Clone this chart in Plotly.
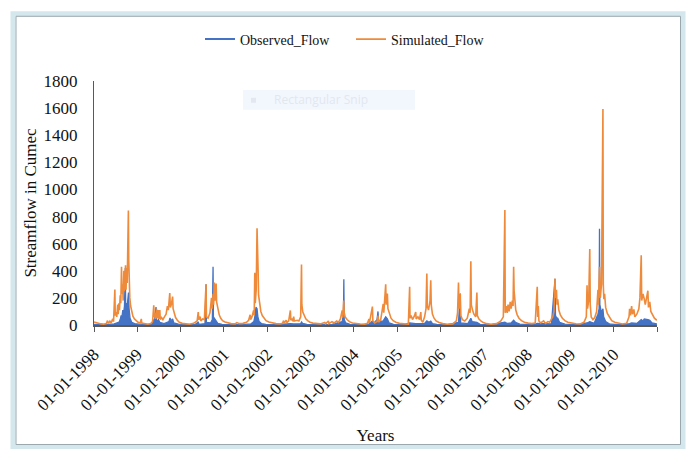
import plotly.graph_objects as go

# ---------------- data ----------------
sim_dates = [
    "1998-01-01","1998-01-15","1998-02-05","1998-03-01","1998-03-25","1998-04-15","1998-04-25","1998-05-02","1998-05-15","1998-05-25",
    "1998-06-08","1998-06-15","1998-06-26","1998-06-29","1998-07-06","1998-07-12","1998-07-20","1998-07-24","1998-07-30","1998-08-04",
    "1998-08-10","1998-08-15","1998-08-21","1998-08-25","1998-08-30","1998-09-04","1998-09-10","1998-09-14","1998-09-19","1998-09-24",
    "1998-09-28","1998-10-03","1998-10-08","1998-10-13","1998-10-18","1998-10-21","1998-10-25","1998-10-30","1998-11-06","1998-11-15",
    "1998-11-25","1998-12-08","1998-12-22",
    "1999-01-08","1999-01-25","1999-02-04","1999-02-08","1999-03-01","1999-04-01","1999-04-25","1999-05-10","1999-05-20","1999-05-24",
    "1999-05-30","1999-06-05","1999-06-12","1999-06-17","1999-06-26","1999-06-30","1999-07-10","1999-07-14","1999-07-25","1999-08-05",
    "1999-08-18","1999-09-01","1999-09-12","1999-09-20","1999-10-02","1999-10-07","1999-10-15","1999-10-26","1999-10-30","1999-11-08",
    "1999-11-20","1999-12-05","1999-12-22",
    "2000-01-15","2000-02-15","2000-03-15","2000-04-20","2000-05-20","2000-05-29","2000-06-03","2000-06-14","2000-06-20","2000-07-05",
    "2000-07-20","2000-08-03","2000-08-06","2000-08-20","2000-09-05","2000-09-18","2000-09-24","2000-10-01","2000-10-06","2000-10-12",
    "2000-10-17","2000-10-22","2000-10-27","2000-10-31","2000-11-10","2000-11-22","2000-12-05","2000-12-20",
    "2001-01-10","2001-02-05","2001-03-01","2001-04-05","2001-04-20","2001-05-10","2001-06-10","2001-07-10","2001-07-28","2001-08-10",
    "2001-08-14","2001-08-25","2001-09-08","2001-09-13","2001-09-18","2001-09-22","2001-09-30","2001-10-07","2001-10-10","2001-10-16",
    "2001-10-20","2001-10-28","2001-11-08","2001-11-20","2001-12-05","2001-12-22",
    "2002-01-15","2002-02-15","2002-03-15","2002-04-15","2002-05-10","2002-05-19","2002-05-25","2002-06-10","2002-06-16","2002-07-01",
    "2002-07-15","2002-07-19","2002-07-30","2002-08-05","2002-08-12","2002-08-17","2002-09-10","2002-09-25","2002-10-10","2002-10-17",
    "2002-10-20","2002-10-28","2002-11-08","2002-11-22","2002-12-10","2002-12-28",
    "2003-01-20","2003-02-20","2003-03-25","2003-05-01","2003-05-08","2003-06-01","2003-06-05","2003-07-01","2003-07-20","2003-08-10",
    "2003-08-25","2003-09-10","2003-09-25","2003-09-30","2003-10-08","2003-10-12","2003-10-20","2003-11-05","2003-11-25","2003-12-20",
    "2004-01-20","2004-02-25","2004-04-01","2004-04-25","2004-05-08","2004-05-12","2004-06-06","2004-06-10","2004-06-25","2004-07-15",
    "2004-07-23","2004-07-28","2004-08-15","2004-09-05","2004-09-10","2004-09-26","2004-09-30","2004-10-10","2004-10-15","2004-10-28",
    "2004-11-10","2004-11-28","2004-12-20",
    "2005-01-20","2005-02-25","2005-04-05","2005-04-16","2005-04-19","2005-04-28","2005-05-10","2005-05-25","2005-06-06","2005-06-10",
    "2005-06-25","2005-07-08","2005-07-19","2005-07-23","2005-08-05","2005-08-20","2005-09-01","2005-09-08","2005-09-12","2005-09-22",
    "2005-10-05","2005-10-11","2005-10-15","2005-10-25","2005-11-08","2005-11-25","2005-12-20",
    "2006-01-20","2006-03-01","2006-04-15","2006-05-15","2006-05-25","2006-06-02","2006-06-06","2006-06-17","2006-06-21","2006-07-05",
    "2006-07-25","2006-08-15","2006-09-01","2006-09-08","2006-09-14","2006-09-18","2006-09-28","2006-10-10","2006-10-25","2006-11-04",
    "2006-11-08","2006-11-20","2006-12-10","2006-12-28",
    "2007-01-25","2007-03-05","2007-04-20","2007-05-25","2007-06-15","2007-06-28","2007-07-01","2007-07-10","2007-07-18","2007-07-25",
    "2007-08-03","2007-08-12","2007-08-20","2007-08-30","2007-09-05","2007-09-10","2007-09-14","2007-09-20","2007-09-28","2007-10-10",
    "2007-10-25","2007-11-15","2007-12-10",
    "2008-01-10","2008-02-10","2008-03-10","2008-03-27","2008-03-31","2008-04-05","2008-04-10","2008-04-25","2008-05-20","2008-06-05",
    "2008-06-25","2008-07-10","2008-07-25","2008-08-05","2008-08-15","2008-08-24","2008-08-28","2008-09-05","2008-09-10","2008-09-16",
    "2008-09-25","2008-10-08","2008-10-25","2008-11-15","2008-12-10",
    "2009-01-10","2009-02-15","2009-03-25","2009-04-25","2009-05-15","2009-05-21","2009-05-25","2009-06-04","2009-06-13","2009-06-17",
    "2009-06-25","2009-07-10","2009-07-25","2009-08-10","2009-08-21","2009-08-25","2009-09-03","2009-09-10","2009-09-20","2009-10-02",
    "2009-10-05","2009-10-10","2009-10-16","2009-10-25","2009-11-08","2009-11-25","2009-12-15",
    "2010-01-10","2010-02-10","2010-03-15","2010-04-20","2010-05-10","2010-05-15","2010-05-22","2010-06-01","2010-06-08","2010-06-20",
    "2010-06-28","2010-07-15","2010-08-01","2010-08-10","2010-08-21","2010-08-25","2010-09-05","2010-09-16","2010-09-24","2010-10-05",
    "2010-10-16","2010-10-21","2010-11-01","2010-11-10","2010-11-25","2010-12-10","2010-12-31",
]
sim_values = [
    22,18,12,8,6,10,32,12,28,15,
    45,25,262,70,95,60,150,80,160,110,
    220,160,430,230,300,180,400,250,330,440,
    260,420,310,560,845,480,300,200,140,95,
    65,45,30,
    20,14,45,14,9,6,10,25,145,60,
    90,45,120,50,110,45,110,40,55,40,
    60,80,140,110,235,130,150,210,120,80,
    55,35,20,
    12,8,6,12,30,95,40,62,30,45,
    40,300,60,50,90,200,120,230,150,313,
    180,240,306,170,110,75,50,32,
    22,14,10,8,18,10,12,20,35,75,
    40,60,107,70,386,160,260,714,420,400,
    220,150,100,70,48,32,
    22,14,10,8,12,32,14,36,18,30,
    107,35,48,28,62,30,35,30,60,447,
    150,95,65,45,30,20,
    14,10,8,18,8,30,10,25,15,30,
    20,45,107,55,180,90,60,40,25,15,
    10,7,6,12,45,15,136,30,15,25,
    70,20,40,155,90,301,150,233,120,75,
    50,32,20,
    12,8,6,282,50,70,40,65,95,45,
    60,40,95,35,20,60,120,379,140,110,
    180,330,150,80,50,30,18,
    10,6,8,30,90,313,120,230,70,40,
    30,50,120,90,471,150,110,80,60,240,
    70,45,28,18,
    10,6,10,30,60,848,90,140,90,150,
    100,170,120,180,140,430,250,180,110,75,
    50,32,20,
    14,10,15,282,60,140,30,15,30,12,
    25,20,45,60,100,343,200,260,150,190,
    110,75,50,32,20,
    14,9,7,20,60,294,120,180,560,150,
    60,40,55,100,260,150,430,200,300,1594,
    300,190,230,130,85,55,32,
    20,12,8,12,60,120,70,140,80,115,
    60,80,120,200,515,180,230,190,150,200,
    253,130,170,100,70,50,35,
]

obs_dates = [
    "1998-01-01","1998-03-01","1998-05-01","1998-06-20","1998-07-20","1998-08-01","1998-08-10","1998-08-18","1998-08-25","1998-09-01",
    "1998-09-08","1998-09-15","1998-09-22","1998-09-25","1998-10-01","1998-10-08","1998-10-15","1998-10-19","1998-10-24","1998-11-01",
    "1998-11-15","1998-12-10",
    "1999-01-15","1999-03-01","1999-05-01","1999-05-20","1999-05-25","1999-06-08","1999-06-12","1999-06-28","1999-07-10","1999-08-15",
    "1999-09-25","1999-10-04","1999-10-12","1999-10-26","1999-11-05","1999-12-15",
    "2000-02-01","2000-05-01","2000-05-29","2000-06-05","2000-07-25","2000-08-03","2000-08-06","2000-09-10","2000-09-25","2000-10-01",
    "2000-10-04","2000-10-12","2000-10-20","2000-10-28","2000-11-10","2000-12-15",
    "2001-02-01","2001-06-01","2001-08-15","2001-09-10","2001-09-18","2001-09-28","2001-10-07","2001-10-14","2001-10-25","2001-11-15",
    "2001-12-20",
    "2002-03-01","2002-07-15","2002-08-12","2002-10-10","2002-10-18","2002-10-25","2002-12-01",
    "2003-03-01","2003-07-01","2003-09-25","2003-10-06","2003-10-09","2003-10-12","2003-10-25","2003-12-01",
    "2004-03-01","2004-05-10","2004-06-06","2004-06-20","2004-07-15","2004-07-23","2004-07-28","2004-09-05","2004-09-26","2004-10-10",
    "2004-10-25","2004-12-01",
    "2005-03-01","2005-04-16","2005-06-06","2005-08-20","2005-09-08","2005-09-25","2005-10-11","2005-10-25","2005-12-01",
    "2006-03-01","2006-06-02","2006-06-17","2006-06-20","2006-08-20","2006-09-14","2006-09-25","2006-11-04","2006-12-01",
    "2007-03-01","2007-06-28","2007-07-15","2007-08-20","2007-09-10","2007-09-25","2007-11-01",
    "2008-03-01","2008-03-27","2008-07-25","2008-08-24","2008-08-28","2008-09-05","2008-09-16","2008-10-01","2008-11-15",
    "2009-03-01","2009-05-21","2009-06-13","2009-07-20","2009-08-21","2009-08-31","2009-09-03","2009-09-06","2009-09-20","2009-10-02",
    "2009-10-08","2009-10-25","2009-12-01",
    "2010-03-01","2010-05-15","2010-06-01","2010-07-15","2010-08-21","2010-09-05","2010-09-16","2010-10-16","2010-11-01","2010-11-20",
    "2010-12-31",
]
obs_values = [
    5,3,4,8,15,22,40,70,60,110,
    90,140,420,150,160,140,200,240,120,50,
    20,10,
    6,4,4,40,15,133,20,40,20,10,
    25,53,30,45,15,6,
    4,3,20,5,10,300,20,15,40,430,
    60,50,45,30,12,5,
    4,3,8,25,60,131,120,60,25,10,
    5,
    3,10,8,10,22,12,5,
    3,5,25,80,338,40,15,5,
    3,8,30,15,40,100,25,30,60,45,
    15,5,
    3,15,10,12,30,20,28,10,4,
    3,20,233,15,10,50,25,20,5,
    3,20,12,15,35,20,6,
    3,12,8,340,70,55,50,20,6,
    3,15,25,12,80,120,710,150,90,120,
    60,25,6,
    3,10,15,12,40,30,45,40,35,15,
    8,
]

year_ticks = ["1998-01-01","1999-01-01","2000-01-01","2001-01-01","2002-01-01","2003-01-01","2004-01-01",
              "2005-01-01","2006-01-01","2007-01-01","2008-01-01","2009-01-01","2010-01-01","2011-01-01"]
year_labels = ["01-01-1998","01-01-1999","01-01-2000","01-01-2001","01-01-2002","01-01-2003","01-01-2004",
               "01-01-2005","01-01-2006","01-01-2007","01-01-2008","01-01-2009","01-01-2010",""]

# ---------------- figure ----------------
W, H = 689, 454
ML, MR, MT, MB = 94, 32, 81, 126
PW, PH = W - ML - MR, H - MT - MB


def px(x):
    return (x - ML) / PW


def py(y):
    return (H - MB - y) / PH


SERIF = "Liberation Serif, Times New Roman, serif"
BLUE = "#4472C4"
ORANGE = "#EE8A3A"

fig = go.Figure()
# observed flow: filled area (legend entry supplied by a line-only proxy)
fig.add_trace(go.Scatter(
    x=obs_dates, y=obs_values, name="Observed_Flow", mode="lines",
    line=dict(color=BLUE, width=1.3), fill="tozeroy", fillcolor=BLUE,
    legendgroup="obs", showlegend=False,
))
fig.add_trace(go.Scatter(
    x=[None], y=[None], name="Observed_Flow", mode="lines",
    line=dict(color=BLUE, width=2), legendgroup="obs", showlegend=True,
))
fig.add_trace(go.Scatter(
    x=sim_dates, y=sim_values, name="Simulated_Flow", mode="lines",
    line=dict(color=ORANGE, width=1.6),
))

shapes = [
    # outer frame of the embedded chart object
    dict(type="rect", xref="paper", yref="paper", x0=px(13), x1=px(683), y0=py(451), y1=py(13),
         line=dict(color="#D3E7EC", width=5), layer="below"),
    dict(type="rect", xref="paper", yref="paper", x0=px(16), x1=px(680.5), y0=py(449), y1=py(15.5),
         line=dict(color="#9AA8AD", width=1), layer="below"),
    # faint "Rectangular Snip" overlay box
    dict(type="rect", xref="paper", yref="paper", x0=px(243), x1=px(415), y0=py(110), y1=py(90),
         line=dict(width=0), fillcolor="#F2F7FE", layer="below"),
    dict(type="rect", xref="paper", yref="paper", x0=px(251), x1=px(256), y0=py(103), y1=py(98),
         line=dict(width=0), fillcolor="#E3E8F0", layer="below"),
]

annotations = [
    dict(text="Rectangular Snip", xref="paper", yref="paper", x=px(272), y=py(100),
         xanchor="left", yanchor="middle", showarrow=False,
         font=dict(family="Open Sans, sans-serif", size=12, color="#E2E7EE")),
]

fig.update_layout(
    width=W, height=H,
    margin=dict(l=ML, r=MR, t=MT, b=MB),
    paper_bgcolor="white", plot_bgcolor="white",
    font=dict(family=SERIF, color="#111111"),
    showlegend=True,
    legend=dict(orientation="h", x=px(200), xanchor="left", y=py(39), yanchor="middle",
                font=dict(family=SERIF, size=14, color="#111111"),
                entrywidth=106, entrywidthmode="pixels", bgcolor="rgba(0,0,0,0)"),
    shapes=shapes,
    annotations=annotations,
    xaxis=dict(
        type="date", range=["1998-01-01", "2011-01-01"],
        tickmode="array", tickvals=year_ticks, ticktext=year_labels,
        tickangle=-45, tickfont=dict(family=SERIF, size=17, color="#111111"),
        ticks="outside", ticklen=5, tickcolor="#595959", tickwidth=1,
        ticklabelstandoff=6,
        showline=True, linecolor="#595959", linewidth=1.5,
        showgrid=False, zeroline=False,
        title=dict(text="Years", font=dict(family=SERIF, size=17, color="#111111"), standoff=16),
    ),
    yaxis=dict(
        range=[0, 1800], tickmode="linear", tick0=0, dtick=200,
        tickfont=dict(family=SERIF, size=17, color="#111111"),
        ticks="", ticklabelstandoff=12,
        showline=True, linecolor="#595959", linewidth=1.3,
        showgrid=False, zeroline=False,
        title=dict(text="Streamflow in Cumec", font=dict(family=SERIF, size=17, color="#111111"), standoff=2),
    ),
)

fig.write_html("out.html", config={"displayModeBar": False},
               post_script="document.body.style.margin='0';")
